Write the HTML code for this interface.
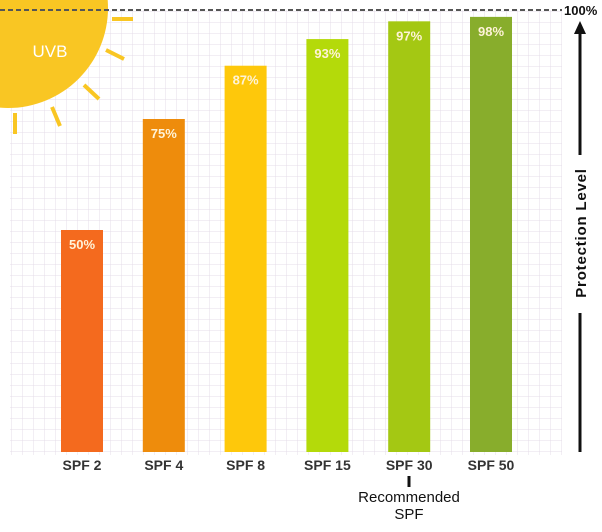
<!DOCTYPE html>
<html><head><meta charset="utf-8"><style>
html,body{margin:0;padding:0;background:#fff;}
svg{display:block;font-family:"Liberation Sans",Arial,sans-serif;}
</style></head><body>
<svg id="chart" width="602" height="532" viewBox="0 0 602 532" xmlns="http://www.w3.org/2000/svg">
<defs>
<pattern id="grid" width="11" height="11" patternUnits="userSpaceOnUse">
<path d="M11 0 L0 0 0 11" fill="none" stroke="#e4dce8" stroke-width="1"/>
</pattern>
</defs>
<rect x="10" y="10" width="552" height="445" fill="url(#grid)"/>
<g id="sun">
<circle cx="8" cy="8" r="100" fill="#f9c623"/>
<g stroke="#f9c623" stroke-width="4" stroke-linecap="butt">
<line x1="112" y1="19" x2="133" y2="19"/>
<line x1="106" y1="50" x2="124" y2="59"/>
<line x1="84" y1="85" x2="99" y2="99"/>
<line x1="52" y1="107" x2="60" y2="126"/>
<line x1="15" y1="113" x2="15" y2="134"/>
</g>
<text x="50" y="57" font-size="17" fill="#fff" text-anchor="middle">UVB</text>
</g>
<line x1="0" y1="10" x2="562" y2="10" stroke="#555" stroke-width="2" stroke-dasharray="5,3"/>
<text x="564" y="15" font-size="13" font-weight="bold" fill="#111">100%</text>
<g>
<line x1="580" y1="30" x2="580" y2="155" stroke="#111" stroke-width="3"/>
<polygon points="580,21 574,34 586,34" fill="#111"/>
<text x="586" y="233" transform="rotate(-90 586 233)" font-size="15" font-weight="bold" fill="#111" text-anchor="middle" letter-spacing="0.8">Protection Level</text>
<line x1="580" y1="313" x2="580" y2="452" stroke="#111" stroke-width="3"/>
</g>
<g id="bars"></g>
<g>
<line x1="409" y1="476" x2="409" y2="487" stroke="#111" stroke-width="3"/>
<text x="409" y="502" font-size="15" fill="#111" text-anchor="middle">Recommended</text>
<text x="409" y="519" font-size="15" fill="#111" text-anchor="middle">SPF</text>
</g>
</svg>
<script>
const categories = ["SPF 2","SPF 4","SPF 8","SPF 15","SPF 30","SPF 50"];
const values = [50,75,87,93,97,98];
const valueLabels = ["50%","75%","87%","93%","97%","98%"];
const colors = ["#f46a1e","#ee8c0c","#fec80b","#b4da0a","#a4c813","#88ad2c"];
const y0 = 452, yTop = 8;
function yScale(v){ return y0 - (y0 - yTop) * v / 100; }
function xCenter(i){ return 82 + i * 81.8; }
const barW = 42;
const g = document.getElementById('bars');
const ns = "http://www.w3.org/2000/svg";
categories.forEach((c,i)=>{
  const cx = xCenter(i), top = yScale(values[i]);
  const r = document.createElementNS(ns,'rect');
  r.setAttribute('x', cx - barW/2); r.setAttribute('y', top);
  r.setAttribute('width', barW); r.setAttribute('height', y0 - top);
  r.setAttribute('fill', colors[i]);
  
  
  g.appendChild(r);
  const t = document.createElementNS(ns,'text');
  t.setAttribute('x', cx); t.setAttribute('y', top + 19);
  t.setAttribute('text-anchor','middle'); t.setAttribute('font-size','13');
  t.setAttribute('font-weight','bold'); t.setAttribute('fill','#fff3d8');
  t.textContent = valueLabels[i];
  
  
  g.appendChild(t);
  const l = document.createElementNS(ns,'text');
  l.setAttribute('x', cx); l.setAttribute('y', 470);
  l.setAttribute('text-anchor','middle'); l.setAttribute('font-size','14');
  l.setAttribute('font-weight','bold'); l.setAttribute('fill','#333');
  l.textContent = c;
  
  
  g.appendChild(l);
});
</script>
</body></html>
